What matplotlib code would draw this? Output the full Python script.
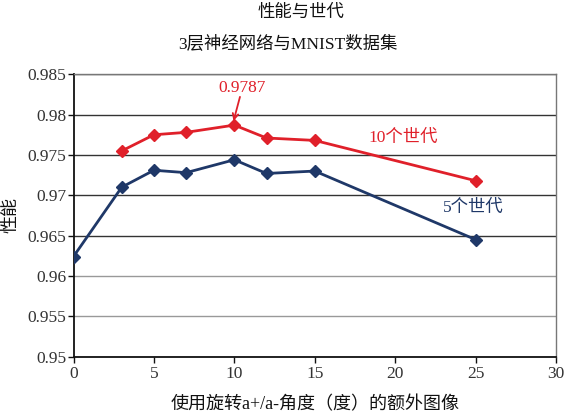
import matplotlib
matplotlib.use("Agg")
import matplotlib.pyplot as plt

plt.rcParams['font.family'] = ['Liberation Serif', 'Noto Sans CJK SC', 'DejaVu Sans']

x5 = [0, 3, 5, 7, 10, 12, 15, 25]
y5 = [0.9624, 0.9710, 0.9731, 0.9728, 0.9744, 0.9727, 0.9730, 0.9645]
x10 = [3, 5, 7, 10, 12, 15, 25]
y10 = [0.9755, 0.9775, 0.9778, 0.9787, 0.9771, 0.9768, 0.9718]
xticks = [0, 5, 10, 15, 20, 25, 30]
yticks = [0.95, 0.955, 0.96, 0.965, 0.97, 0.975, 0.98, 0.985]

red = '#e0202a'
blue = '#1f3868'

fig = plt.figure(figsize=(5.66, 4.15), dpi=100)
W, H = 566, 415
l, r, t, b = 73.5, 556, 74.3, 356.5
ax = fig.add_axes([l / W, 1 - b / H, (r - l) / W, (b - t) / H])

ax.plot(x5, y5, color=blue, lw=2, marker='D', ms=6.3, zorder=3)
ax.plot(x10, y10, color=red, lw=2, marker='D', ms=6.3, zorder=3)

ax.set_xlim(0, 30)
ax.set_ylim(0.95, 0.985)
ax.set_xticks(xticks)
ax.set_yticks(yticks)
ax.set_xticklabels([str(v) for v in xticks])
ax.set_yticklabels(['0.95', '0.955', '0.96', '0.965', '0.97', '0.975', '0.98', '0.985'])
ax.tick_params(axis='both', direction='out', length=4, width=1, labelsize=12.5,
               colors='#111', labelcolor='#333')
ax.tick_params(axis='x', pad=3)
ax.tick_params(axis='y', pad=1)

ax.grid(axis='y', color='#333', lw=1)
for gl, v in zip(ax.get_ygridlines(), yticks):
    if v < 0.962:
        gl.set_color('#999')
ax.set_axisbelow(True)

for s in ['top', 'right']:
    ax.spines[s].set_color('#777')
    ax.spines[s].set_linewidth(1)
for s in ['left', 'bottom']:
    ax.spines[s].set_color('#111')
    ax.spines[s].set_linewidth(1.3)

ax.text(10.5, 0.9833, '0.9787', color=red, fontsize=12.5, ha='center', va='center')
ax.annotate('', xy=(9.95, 0.9792), xytext=(10.35, 0.9822),
            arrowprops=dict(arrowstyle='->', color=red, lw=1.3, shrinkA=0, shrinkB=0))
ax.text(20.5, 0.9771, '10个世代', color=red, fontsize=12.5, ha='center', va='center')
ax.text(24.85, 0.9684, '5个世代', color=blue, fontsize=12.5, ha='center', va='center')

fig.text(301 / W, 1 - 13 / H, '性能与世代', ha='center', va='center', fontsize=12.5, color='#111')
fig.text(288 / W, 1 - 45 / H, '3层神经网络与MNIST数据集', ha='center', va='center', fontsize=12.5, color='#111')
fig.text(315 / W, 1 - 405 / H, '使用旋转a+/a-角度（度）的额外图像', ha='center', va='center', fontsize=13, color='#111')
fig.text(11 / W, 1 - 215 / H, '性能', ha='center', va='center', rotation=90, fontsize=13, color='#111')

fig.savefig('out.png', dpi=100)
